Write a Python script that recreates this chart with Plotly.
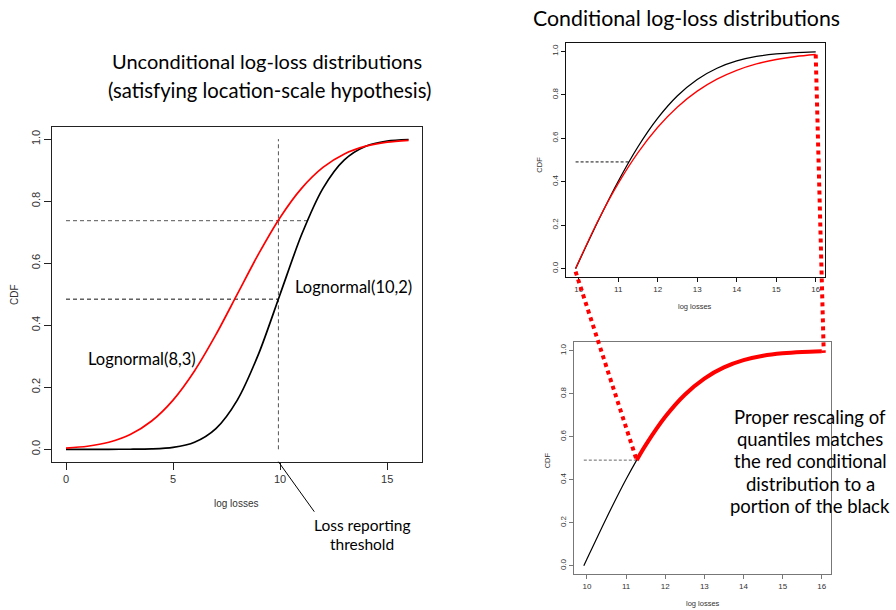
import plotly.graph_objects as go

# ---------------- data ----------------
x_full = [0, 1, 2, 3, 4, 5, 6, 7, 8, 9, 10, 11, 12, 13, 14, 15, 16]
cdf_black_full = [0.0, 0.0, 0.00003, 0.0002, 0.0013, 0.0062, 0.0228, 0.0668, 0.1587,
                  0.3085, 0.5, 0.6915, 0.8413, 0.9332, 0.9772, 0.9938, 0.9987]
cdf_red_full = [0.0038, 0.0098, 0.0228, 0.0478, 0.0912, 0.1587, 0.2525, 0.3694, 0.5,
                0.6306, 0.7475, 0.8413, 0.9088, 0.9522, 0.9772, 0.9902, 0.9962]

threshold = 9.92
black_at_threshold = 0.484
red_at_threshold = 0.737
matched_x = 11.27
matched_cond = 0.491

x_cond = [9.92, 10, 10.5, 11, 11.5, 12, 12.5, 13, 13.5, 14, 14.5, 15, 15.5, 16]
cond_black = [0.0, 0.031, 0.2223, 0.4021, 0.5608, 0.6924, 0.7953, 0.8705, 0.9223,
              0.9558, 0.9764, 0.9880, 0.9942, 0.9974]
cond_red = [0.0, 0.0329, 0.2252, 0.3922, 0.5339, 0.6507, 0.7442, 0.8169, 0.8721,
            0.9127, 0.9422, 0.9625, 0.9763, 0.9854]

x_rescaled = [11.27, 11.5, 12, 12.5, 13, 13.5, 14, 14.5, 15, 15.5, 16]
rescaled_red = [0.491, 0.5608, 0.6924, 0.7953, 0.8705, 0.9223, 0.9558, 0.9764,
                0.9880, 0.9942, 0.9974]

left_xticks = [0, 5, 10, 15]
right_xticks = [10, 11, 12, 13, 14, 15, 16]
yticks = [0.0, 0.2, 0.4, 0.6, 0.8, 1.0]

note_lines = ["Proper rescaling of", "quantiles matches", "the red conditional",
              "distribution to a", "portion of the black"]
threshold_lines = ["Loss reporting", "threshold"]

# ---------------- layout helpers ----------------
W, H = 896, 610


def px(x):
    return x / W


def py(y):
    return 1 - y / H


dom = {
    1: dict(x=[px(52.3), px(422.3)], y=[py(461.7), py(126.7)],
            xr=[-0.64, 16.64], yr=[-0.04, 1.04]),
    2: dict(x=[px(566), px(825.3)], y=[py(277.3), py(43.3)],
            xr=[9.677, 16.243], yr=[-0.04, 1.037]),
    3: dict(x=[px(574.3), px(831.3)], y=[py(574.3), py(342.3)],
            xr=[9.677, 16.243], yr=[-0.04, 1.039]),
}


def to_paper(k, xv, yv):
    d = dom[k]
    fx = (xv - d["xr"][0]) / (d["xr"][1] - d["xr"][0])
    fy = (yv - d["yr"][0]) / (d["yr"][1] - d["yr"][0])
    return (d["x"][0] + fx * (d["x"][1] - d["x"][0]),
            d["y"][0] + fy * (d["y"][1] - d["y"][0]))


fig = go.Figure()

# ---- left panel ----
fig.add_trace(go.Scatter(x=[threshold, threshold], y=[0, 1], mode="lines",
                         line=dict(color="#555555", width=1, dash="4px,3px"),
                         xaxis="x", yaxis="y", hoverinfo="skip"))
fig.add_trace(go.Scatter(x=[0, matched_x], y=[red_at_threshold, red_at_threshold], mode="lines",
                         line=dict(color="#555555", width=1, dash="4px,3px"),
                         xaxis="x", yaxis="y", hoverinfo="skip"))
fig.add_trace(go.Scatter(x=[0, threshold], y=[black_at_threshold, black_at_threshold], mode="lines",
                         line=dict(color="#111111", width=1, dash="4px,3px"),
                         xaxis="x", yaxis="y", hoverinfo="skip"))
fig.add_trace(go.Scatter(x=x_full, y=cdf_black_full, mode="lines",
                         line=dict(color="black", width=1.7, shape="spline", smoothing=0.8),
                         xaxis="x", yaxis="y", name="Lognormal(10,2)"))
fig.add_trace(go.Scatter(x=x_full, y=cdf_red_full, mode="lines",
                         line=dict(color="#ff0000", width=1.7, shape="spline", smoothing=0.8),
                         xaxis="x", yaxis="y", name="Lognormal(8,3)"))

# ---- top right panel ----
fig.add_trace(go.Scatter(x=[threshold, matched_x], y=[matched_cond, matched_cond], mode="lines",
                         line=dict(color="#111111", width=1, dash="3px,2px"),
                         xaxis="x2", yaxis="y2", hoverinfo="skip"))
fig.add_trace(go.Scatter(x=x_cond, y=cond_black, mode="lines",
                         line=dict(color="black", width=1.3, shape="spline", smoothing=0.8),
                         xaxis="x2", yaxis="y2"))
fig.add_trace(go.Scatter(x=x_cond, y=cond_red, mode="lines",
                         line=dict(color="#ff0000", width=1.3, shape="spline", smoothing=0.8),
                         xaxis="x2", yaxis="y2"))

# ---- bottom right panel ----
fig.add_trace(go.Scatter(x=[threshold, matched_x], y=[matched_cond, matched_cond], mode="lines",
                         line=dict(color="#666666", width=1, dash="3px,2px"),
                         xaxis="x3", yaxis="y3", hoverinfo="skip"))
fig.add_trace(go.Scatter(x=x_cond, y=cond_black, mode="lines",
                         line=dict(color="black", width=1.2, shape="spline", smoothing=0.8),
                         xaxis="x3", yaxis="y3"))
fig.add_trace(go.Scatter(x=x_rescaled, y=rescaled_red, mode="lines",
                         line=dict(color="#ff0000", width=4, shape="spline", smoothing=0.8),
                         xaxis="x3", yaxis="y3"))

axis_font = "Liberation Sans, Arial, sans-serif"
cal_font = "Lato, Carlito, Calibri, sans-serif"


def xax(k, ticks, size, tlen, lc):
    d = dom[k]
    return dict(domain=d["x"], range=d["xr"], tickvals=ticks, ticks="outside",
                ticklen=tlen, tickcolor=lc, showline=True, mirror=True, linecolor=lc,
                linewidth=1, showgrid=False, zeroline=False,
                tickfont=dict(family=axis_font, size=size, color="#333333"),
                anchor="y" if k == 1 else f"y{k}")


def yax(k, size, tlen, lc):
    d = dom[k]
    return dict(domain=d["y"], range=d["yr"], tickvals=yticks, tickformat=".1f",
                ticks="outside", ticklen=tlen, tickcolor=lc, tickangle=-90,
                showline=True, mirror=True, linecolor=lc, linewidth=1,
                showgrid=False, zeroline=False,
                tickfont=dict(family=axis_font, size=size, color="#333333"),
                anchor="x" if k == 1 else f"x{k}")


fig.update_layout(
    width=W, height=H, margin=dict(l=0, r=0, t=0, b=0),
    paper_bgcolor="white", plot_bgcolor="white", showlegend=False,
    xaxis=xax(1, left_xticks, 11, 7, "#222222"),
    yaxis=yax(1, 11, 7, "#222222"),
    xaxis2=xax(2, right_xticks, 8, 4, "#111111"),
    yaxis2=yax(2, 8, 4, "#111111"),
    xaxis3=xax(3, right_xticks, 8, 4, "#777777"),
    yaxis3=yax(3, 8, 4, "#777777"),
)

annots = [
    # titles
    dict(text="Unconditional log-loss distributions", x=266.5, y=61, size=20, font=cal_font),
    dict(text="(satisfying location-scale hypothesis)", x=269.5, y=90, size=20.3, font=cal_font),
    dict(text="Conditional log-loss distributions", x=686.5, y=18, size=21.3, font=cal_font),
    # curve labels
    dict(text="Lognormal(8,3)", x=142, y=359, size=16.5, font=cal_font),
    dict(text="Lognormal(10,2)", x=353, y=287, size=16.5, font=cal_font),
    # axis titles
    dict(text="log losses", x=236, y=503, size=10, font=axis_font, color="#333333"),
    dict(text="CDF", x=14, y=295, size=10, font=axis_font, color="#333333", angle=-90),
    dict(text="log losses", x=695.3, y=306, size=7.5, font=axis_font, color="#333333"),
    dict(text="CDF", x=540, y=164.7, size=7.5, font=axis_font, color="#333333", angle=-90),
    dict(text="log losses", x=702.7, y=603.3, size=7.5, font=axis_font, color="#333333"),
    dict(text="CDF", x=548.3, y=460, size=7.5, font=axis_font, color="#333333", angle=-90),
]
for i, t in enumerate(threshold_lines):
    annots.append(dict(text=t, x=362, y=524.5 + 19.0 * i, size=15.5, font=cal_font))
for i, t in enumerate(note_lines):
    annots.append(dict(text=t, x=810, y=416.6 + 22.4 * i, size=18.5, font=cal_font))

for a in annots:
    fig.add_annotation(text=a["text"], x=px(a["x"]), y=py(a["y"]), xref="paper", yref="paper",
                       xanchor="center", yanchor="middle", showarrow=False, borderpad=0,
                       textangle=a.get("angle", 0),
                       font=dict(family=a["font"], size=a["size"], color=a.get("color", "black")))

# pointer line from threshold to its label
fig.add_shape(type="line", xref="paper", yref="paper",
              x0=to_paper(1, threshold, -0.04)[0], y0=to_paper(1, threshold, -0.04)[1],
              x1=px(314.3), y1=py(511.7), line=dict(color="black", width=1))

# red dotted connectors between the conditional panels
p0 = to_paper(2, threshold, 0.0)
p1 = to_paper(3, matched_x, matched_cond)
fig.add_shape(type="line", xref="paper", yref="paper", x0=p0[0], y0=p0[1] - 0.005,
              x1=p1[0], y1=p1[1], line=dict(color="#ff0000", width=4, dash="dot"))
q0 = to_paper(2, 16, cond_red[-1])
q1 = to_paper(3, 16.05, 0.99)
fig.add_shape(type="line", xref="paper", yref="paper", x0=q0[0], y0=q0[1],
              x1=q1[0], y1=q1[1], line=dict(color="#ff0000", width=4, dash="dot"))

fig.write_html("out.html", config={"displayModeBar": False},
               post_script="document.body.style.margin='0';document.body.style.overflow='hidden';")
